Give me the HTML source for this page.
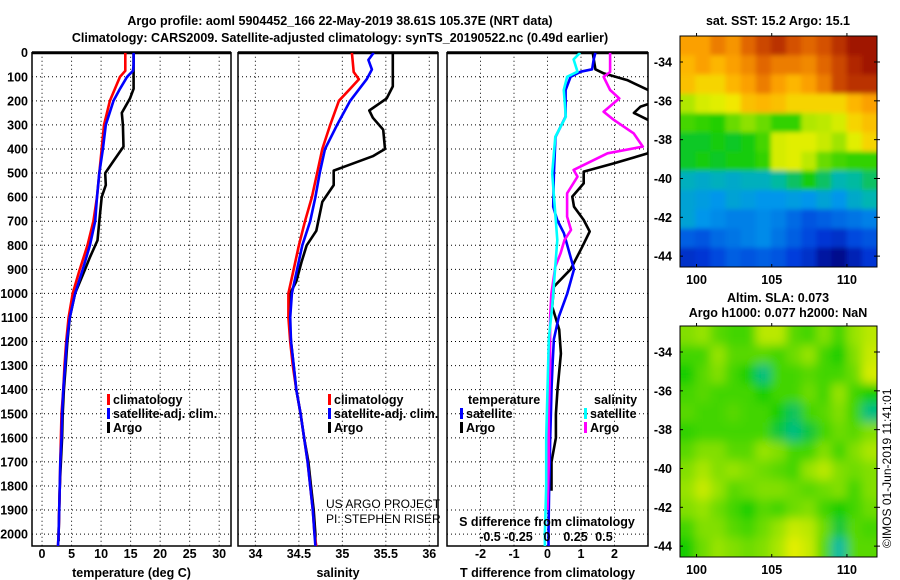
<!DOCTYPE html>
<html><head><meta charset="utf-8"><style>
body{margin:0;background:#fff;}
svg{display:block;font-family:"Liberation Sans",sans-serif;}
.b{font-weight:bold;font-size:12.5px;}
</style></head><body>
<svg id="c" width="900" height="580" viewBox="0 0 900 580">
<text class="b" x="340" y="25" text-anchor="middle" font-size="13.5">Argo profile: aoml 5904452_166 22-May-2019 38.61S 105.37E (NRT data)</text>
<text class="b" x="340" y="42" text-anchor="middle" font-size="13.5">Climatology: CARS2009. Satellite-adjusted climatology: synTS_20190522.nc (0.49d earlier)</text>
<text class="b" x="778" y="25" text-anchor="middle">sat. SST: 15.2 Argo: 15.1</text>
<text class="b" x="778" y="302" text-anchor="middle">Altim. SLA: 0.073</text>
<text class="b" x="778" y="317" text-anchor="middle">Argo h1000: 0.077 h2000: NaN</text>
<text x="0" y="0" font-size="12" transform="translate(891,548) rotate(-90)">©IMOS 01-Jun-2019 11:41:01</text>
<text x="326" y="508" font-size="12">US ARGO PROJECT</text>
<text x="326" y="523" font-size="12">PI: STEPHEN RISER</text>
</svg>
<script>
// ---------- data ----------
const depthTicks=[0,100,200,300,400,500,600,700,800,900,1000,1100,1200,1300,1400,1500,1600,1700,1800,1900,2000];
const tempTicks=[0,5,10,15,20,25,30];
const salTicks=[34,34.5,35,35.5,36];
const tdiffTicks=[-2,-1,0,1,2];
const sdiffTicks=[-0.5,-0.25,0,0.25,0.5];
const latTicks=[-34,-36,-38,-40,-42,-44];
const lonTicks=[100,105,110];

const tClimDepth=[0,75,100,200,300,400,500,600,700,800,900,1000,1100,1200,1300,1400,1500,1600,1700,1800,1900,2000,2050];
const tClimVal=[14.1,14.1,13.2,11.5,10.5,10.1,9.7,9.3,8.7,7.7,6.4,5.2,4.5,4.1,3.8,3.6,3.3,3.2,3.1,3.0,2.9,2.8,2.7];
const tSatDepth=[0,50,75,100,150,200,300,400,500,600,700,800,900,1000,1100,1200,1300,1400,1500,1600,1700,1800,1900,2000,2050];
const tSatVal=[15.5,15.5,15.4,14.4,13.2,12.1,10.8,10.3,9.7,9.3,9.0,8.1,6.9,5.6,4.7,4.2,3.9,3.6,3.4,3.3,3.1,3.0,2.9,2.8,2.7];
const tArgoDepth=[0,150,190,250,300,390,450,500,550,600,700,780,850,900,1000,1100,1200,1300,1400,1500,1600,1700,1800,1900,2000,2030];
const tArgoVal=[15.5,15.5,14.9,13.5,13.7,13.8,12.1,10.7,10.8,10.1,9.7,9.4,8.1,7.3,5.6,4.7,4.3,4.0,3.7,3.5,3.4,3.2,3.0,2.9,2.8,2.8];

const sClimDepth=[0,80,110,150,200,300,400,500,600,700,800,900,1000,1100,1200,1300,1400,1500,1600,1700,1800,1900,2000,2050];
const sClimVal=[35.11,35.13,35.19,35.09,34.96,34.86,34.77,34.71,34.65,34.57,34.50,34.44,34.38,34.38,34.40,34.43,34.47,34.52,34.56,34.60,34.63,34.66,34.68,34.70];
const sSatDepth=[0,30,70,110,200,300,400,500,600,700,800,900,1000,1100,1200,1300,1400,1500,1600,1700,1800,1900,2000,2050];
const sSatVal=[35.36,35.30,35.34,35.28,35.09,34.94,34.80,34.74,34.69,34.63,34.54,34.48,34.42,34.40,34.41,34.44,34.47,34.52,34.56,34.60,34.63,34.66,34.68,34.69];
const sArgoDepth=[0,140,190,240,270,320,400,430,470,490,550,620,740,800,870,950,1000,1100,1200,1300,1400,1500,1600,1700,1800,1900,2000,2030];
const sArgoVal=[35.58,35.58,35.51,35.31,35.35,35.47,35.49,35.35,35.05,34.90,34.90,34.77,34.70,34.59,34.53,34.47,34.40,34.39,34.41,34.44,34.47,34.52,34.56,34.61,34.64,34.67,34.69,34.69];

const tdSatDepth=[0,28,69,79,100,155,266,350,501,640,695,750,900,1000,1096,1190,1300,1400,1500,1600,1700,1800,1900,2000,2050];
const tdSatVal=[1.43,1.38,1.33,0.99,0.69,0.54,0.54,0.24,0.19,0.17,0.29,0.49,0.79,0.59,0.34,0.19,0.15,0.12,0.1,0.08,0.07,0.05,0.04,0.03,0.03];
const tdArgoDepth=[0,69,86,114,155,200,224,250,293,418,460,494,543,598,640,695,743,806,900,972,1055,1150,1250,1400,1500,1600,1700,1820];
const tdArgoVal=[1.35,1.43,1.68,2.38,3.0,3.3,2.78,2.58,3.2,3.0,1.98,1.08,1.08,0.74,0.79,1.08,1.26,1.04,0.69,0.19,0.14,0.35,0.4,0.3,0.25,0.25,0.12,0.12];
const sdSatDepth=[0,28,79,100,155,266,350,501,778,1055,1190,1400,1600,1800,2000,2050];
const sdSatVal=[0.25,0.2,0.23,0.15,0.125,0.14,0.06,0.036,0.075,0.036,0.01,0.0,-0.01,-0.01,-0.02,-0.02];
const sdArgoDepth=[0,80,100,155,190,245,280,335,390,418,487,515,584,681,736,778,833,889,1000,1100,1300,1500,1700,1900];
const sdArgoVal=[0.48,0.48,0.43,0.48,0.55,0.43,0.51,0.66,0.73,0.46,0.20,0.23,0.15,0.15,0.18,0.13,0.10,0.06,0.03,0.02,0.02,0.01,0.01,0.0];

const sstGrid=[
[16.5,16.5,16.8,16.6,17,17.3,17.5,17.2,17,17.2,17.5,17.8,18],
[16.3,16.5,16.3,16.5,16.7,17,16.8,16.8,16.7,17,17.3,17.6,17.8],
[16.2,16,16,16.3,16.5,16.8,16.5,16.3,16.5,16.8,17.3,17.5,17.5],
[15.2,15.5,15.6,15.8,16.2,16.3,16.2,16,16,16,16,16.3,16.5],
[14.6,14.5,14.4,14.8,15,14.8,14.5,14.5,15.2,15.3,15.5,16,16.2],
[14.2,14.2,14.3,14.2,14.3,14.6,15.5,15.6,15.6,15.4,15.1,15.6,16],
[14.2,14.3,14.2,14.3,14.3,14.5,15.5,15.6,15.3,14.8,14.6,14.5,14.5],
[13.6,13.5,13.6,13.5,13.6,13.6,13.8,14,14.3,14,13.7,13.8,14],
[13.4,13.3,13.2,13.4,13.3,13.2,13.2,13.3,13.2,13.4,13.2,13.5,13.7],
[13.4,13.2,13.1,13,13,13.1,13,12.8,12.6,12.7,12.8,12.9,13],
[12.7,12.6,12.8,12.9,13,13.1,12.9,12.7,12.5,12.3,12.2,12.5,12.6],
[12.2,12.3,12.5,12.7,12.6,12.7,12.6,12.4,12.2,11.8,11.6,12,12.3]];
const slaGrid=[
[0.05,0.06,0.03,0.02,0.02,0.08,0.08,0.03,0.02,0.05,0.02,0.06,0.08],
[0.02,0.02,0.06,0.03,0.03,0.03,0.02,0.04,0.06,0.02,0.0,0.05,0.09],
[0.0,0.03,0.05,0.02,0.0,-0.04,0.02,0.02,0.03,0.02,0.02,0.04,0.1],
[0.02,0.03,0.02,0.02,0.02,0.0,0.02,0.02,0.04,0.02,0.06,0.02,0.0],
[0.03,0.02,0.02,0.03,0.02,0.02,0.0,-0.03,0.02,0.03,0.05,0.02,-0.04],
[0.01,0.02,0.02,0.02,0.02,0.02,-0.02,-0.04,-0.02,0.02,0.04,0.03,0.05],
[0.03,0.05,0.05,0.03,0.03,0.06,0.05,0.02,0.02,0.05,0.02,0.05,0.07],
[0.05,0.07,0.05,0.06,0.05,0.04,0.03,0.02,0.06,0.08,0.05,0.04,0.05],
[0.06,0.09,0.06,0.03,0.04,0.05,0.05,0.04,0.03,0.04,0.05,0.02,0.05],
[0.05,0.06,0.04,0.02,0.0,0.03,0.02,0.04,0.05,0.02,0.0,0.02,0.04],
[0.02,0.05,0.05,0.03,0.02,0.04,0.06,0.09,0.08,0.04,-0.02,0.03,0.02],
[0.0,0.04,0.06,0.05,0.04,0.05,0.07,0.11,0.09,0.03,-0.05,0.03,0.03]];

// ---------- geometry ----------
const NS="http://www.w3.org/2000/svg";
const svg=document.getElementById('c');
function mk(tag,attrs,parent){const e=document.createElementNS(NS,tag);for(const k in attrs)e.setAttribute(k,attrs[k]);(parent||svg).appendChild(e);return e;}
const Y0=52.7,Y1=546;
const yD=d=>Y0+d*0.2407;
function lin(d0,d1,r0,r1){return v=>r0+(v-d0)*(r1-r0)/(d1-d0);}
const panels=[
 {x0:32,x1:231,sx:lin(-1.7,32.0,32,231),ticks:tempTicks,label:'temperature (deg C)',name:'temperature'},
 {x0:238,x1:438,sx:lin(33.8,36.1,238,438),ticks:salTicks,label:'salinity',name:'salinity'},
 {x0:447,x1:648,sx:lin(-3,3,447,648),ticks:tdiffTicks,label:'T difference from climatology',name:'difference'}
];
const sdx=lin(-0.77,0.77,447,648);
const sdLabelX=lin(-0.5,0.5,490,604);

panels.forEach((p,i)=>{
  const g=mk('g',{});
  
  
  const cp=mk('clipPath',{id:'cp'+i},g);mk('rect',{x:p.x0,y:Y0,width:p.x1-p.x0,height:Y1-Y0},cp);
  depthTicks.forEach(d=>{
    const l=mk('line',{x1:p.x0,x2:p.x1,y1:yD(d),y2:yD(d),stroke:'#000','stroke-width':1,'stroke-dasharray':'1,3'},g);
    
    
    if(i===0){const t=mk('text',{x:28,y:yD(d)+4.5,'text-anchor':'end','class':'b'},g);t.textContent=d;
      
      }
  });
  p.ticks.forEach(v=>{
    const x=p.sx(v);
    const l=mk('line',{x1:x,x2:x,y1:Y0,y2:Y1,stroke:'#000','stroke-width':1,'stroke-dasharray':'1,3'},g);
    
    
    const t=mk('text',{x:x,y:558,'text-anchor':'middle','class':'b'},g);t.textContent=v;
    
    
  });
  const xl=mk('text',{x:(p.x0+p.x1)/2,y:577,'text-anchor':'middle','class':'b'},g);xl.textContent=p.label;
  
  
  const fr=mk('rect',{x:p.x0,y:Y0,width:p.x1-p.x0,height:Y1-Y0,fill:'none',stroke:'#000','stroke-width':1.5},g);
  
  
  mk('line',{x1:p.x0,x2:p.x1,y1:Y0,y2:Y0,stroke:'#000','stroke-width':3},g);
  p.g=g;
});
function series(pi,sx,depths,vals,color,name){
  const pts=depths.map((d,k)=>sx(vals[k]).toFixed(1)+','+yD(d).toFixed(1)).join(' ');
  const pl=mk('polyline',{points:pts,fill:'none',stroke:color,'stroke-width':2.6,'stroke-linejoin':'round','clip-path':'url(#cp'+pi+')'},panels[pi].g);
  
  
}
series(0,panels[0].sx,tArgoDepth,tArgoVal,'#000','temp-argo-line');
series(0,panels[0].sx,tClimDepth,tClimVal,'#f00','temp-climatology-line');
series(0,panels[0].sx,tSatDepth,tSatVal,'#00f','temp-satellite-line');
series(1,panels[1].sx,sArgoDepth,sArgoVal,'#000','sal-argo-line');
series(1,panels[1].sx,sClimDepth,sClimVal,'#f00','sal-climatology-line');
series(1,panels[1].sx,sSatDepth,sSatVal,'#00f','sal-satellite-line');
series(2,panels[2].sx,tdArgoDepth,tdArgoVal,'#000','tdiff-argo-line');
series(2,panels[2].sx,tdSatDepth,tdSatVal,'#00f','tdiff-satellite-line');
series(2,sdx,sdArgoDepth,sdArgoVal,'#f0f','sdiff-argo-line');
series(2,sdx,sdSatDepth,sdSatVal,'#0ff','sdiff-satellite-line');

// S diff axis labels
const sdt=mk('text',{x:547,y:526,'text-anchor':'middle','class':'b'});sdt.textContent='S difference from climatology';


sdiffTicks.forEach(v=>{const t=mk('text',{x:sdLabelX(v),y:541,'text-anchor':'middle','class':'b'});t.textContent=v;
  
  });

// legends
function legend(x,y,color,label,name){
  const g=mk('g',{});
  
  
  mk('rect',{x:x,y:y-10,width:3,height:11,fill:color},g);
  const t=mk('text',{x:x+6,y:y,'class':'b'},g);t.textContent=label;
}
legend(107,404,'#f00','climatology','legend-temp-climatology');
legend(107,418,'#00f','satellite-adj. clim.','legend-temp-satellite');
legend(107,432,'#000','Argo','legend-temp-argo');
legend(328,404,'#f00','climatology','legend-sal-climatology');
legend(328,418,'#00f','satellite-adj. clim.','legend-sal-satellite');
legend(328,432,'#000','Argo','legend-sal-argo');
const th=mk('text',{x:468,y:404,'class':'b'});th.textContent='temperature';


const sh=mk('text',{x:594,y:404,'class':'b'});sh.textContent='salinity';


legend(460,418,'#00f','satellite','legend-tdiff-satellite');
legend(460,432,'#000','Argo','legend-tdiff-argo');
legend(584,418,'#0ff','satellite','legend-sdiff-satellite');
legend(584,432,'#f0f','Argo','legend-sdiff-argo');

// maps
const stops=[[0,[0,0,130]],[0.14,[0,60,220]],[0.27,[0,150,235]],[0.36,[0,185,170]],[0.45,[20,205,0]],[0.58,[170,230,0]],[0.67,[240,240,0]],[0.78,[255,170,0]],[0.89,[220,90,0]],[1,[160,20,0]]];
function cmap(t){t=Math.max(0,Math.min(1,t));for(let i=1;i<stops.length;i++){if(t<=stops[i][0]){const a=stops[i-1],b=stops[i],f=(t-a[0])/(b[0]-a[0]);return 'rgb('+a[1].map((c,k)=>Math.round(c+(b[1][k]-c)*f)).join(',')+')';}}return 'rgb(160,20,0)';}
const MX0=680,MX1=877,lonX=lin(98.9,112.0,MX0,MX1);
function drawMap(top,grid,vmin,vmax,blur,name){
  const bot=top+231, latY=lin(-32.66,-44.56,top,bot);
  const g=mk('g',{});
  
  
  const id='m'+top;
  const cp=mk('clipPath',{id:'c'+id},g);mk('rect',{x:MX0,y:top,width:MX1-MX0,height:bot-top},cp);
  const f=mk('filter',{id:'f'+id,x:'-10%',y:'-10%',width:'120%',height:'120%'},g);mk('feGaussianBlur',{stdDeviation:blur},f);
  const cg=mk('g',{'clip-path':'url(#c'+id+')'},g);
  const ig=mk('g',{filter:'url(#f'+id+')'},cg);
  const nr=grid.length,nc=grid[0].length,cw=(MX1-MX0)/nc,ch=(bot-top)/nr;
  grid.forEach((row,r)=>row.forEach((v,c)=>{
    const x=MX0+c*cw-(c===0?12:0),y=top+r*ch-(r===0?12:0);
    const w=cw+(c===0?12:0)+(c===nc-1?12:0)+0.6,h=ch+(r===0?12:0)+(r===nr-1?12:0)+0.6;
    const rc=mk('rect',{x:x,y:y,width:w,height:h,fill:cmap((v-vmin)/(vmax-vmin))},ig);
    
    
  }));
  mk('rect',{x:MX0,y:top,width:MX1-MX0,height:bot-top,fill:'none',stroke:'#000','stroke-width':1},g);
  latTicks.forEach(v=>{const y=latY(v);
    mk('line',{x1:MX0,x2:MX0+3,y1:y,y2:y,stroke:'#000'},g);mk('line',{x1:MX1-3,x2:MX1+3,y1:y,y2:y,stroke:'#000'},g);
    const t=mk('text',{x:672,y:y+4.5,'text-anchor':'end','class':'b'},g);t.textContent=v;
    
    });
  lonTicks.forEach(v=>{const x=lonX(v);
    mk('line',{x1:x,x2:x,y1:bot,y2:bot-3,stroke:'#000'},g);mk('line',{x1:x,x2:x,y1:top,y2:top-3,stroke:'#000'},g);
    const t=mk('text',{x:x,y:bot+17,'text-anchor':'middle','class':'b'},g);t.textContent=v;
    
    });
}
drawMap(36,sstGrid,11.5,17.8,2.5,'sst-map');
drawMap(326,slaGrid,-0.25,0.3,5,'sla-map');
</script>
</body></html>
